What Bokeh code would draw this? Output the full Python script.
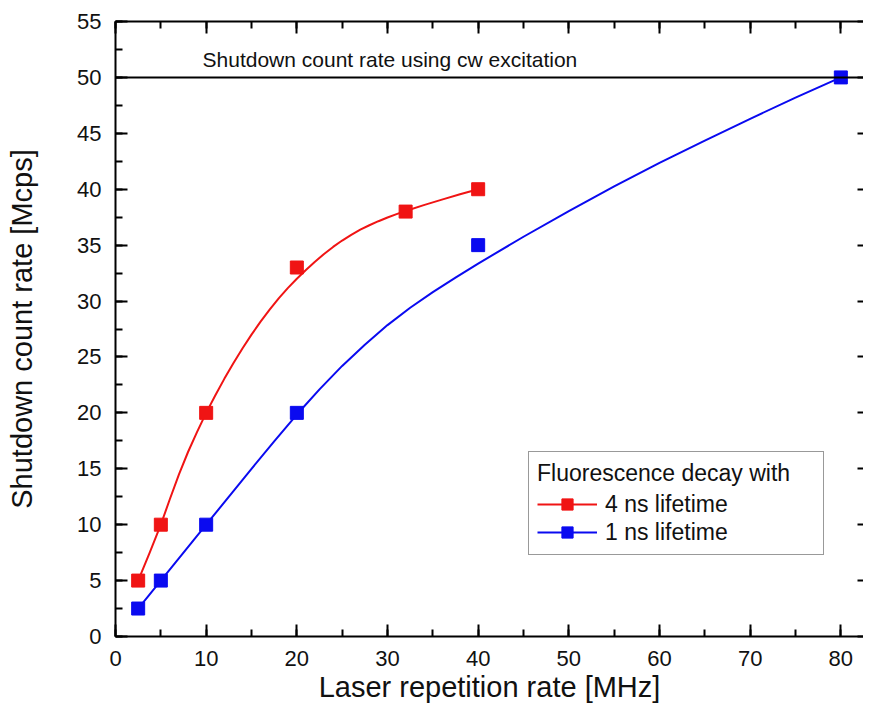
from bokeh.plotting import figure
from bokeh.models import (Range1d, LinearAxis, SingleIntervalTicker, Span, Label,
                          Legend, LegendItem)
from bokeh.embed import file_html
from bokeh.resources import INLINE

# measured points
x_4ns = [2.5, 5, 10, 20, 32, 40]
y_4ns = [5, 10, 20, 33, 38, 40]
x_1ns = [2.5, 5, 10, 20, 40, 80]
y_1ns = [2.5, 5, 10, 20, 35, 50]

# fitted curves
fit4_x = [2.5, 3.75, 5, 6, 7, 8, 9, 10, 11, 12, 13, 14, 15, 16, 17, 18, 19, 20,
          21, 22, 23, 24, 25, 26, 27, 28, 29, 30, 31, 32, 34, 36, 38, 40]
fit4_y = [5, 7.45, 10, 12.3, 14.5, 16.5, 18.3, 20, 21.56, 23.04, 24.44, 25.76, 27.0,
          28.16, 29.24, 30.24, 31.16, 32.0, 32.78, 33.52, 34.21, 34.84, 35.41, 35.92,
          36.38, 36.78, 37.14, 37.47, 37.77, 38.05, 38.58, 39.07, 39.55, 40.0]
fit1_x = [2.5, 5, 10, 15, 17.5, 20, 22.5, 25, 27.5, 30, 32.5, 35, 37.5, 40, 45, 50,
          55, 60, 65, 70, 75, 80]
fit1_y = [2.5, 5, 10, 15, 17.45, 19.85, 22.1, 24.2, 26.1, 27.85, 29.4, 30.8, 32.1,
          33.35, 35.75, 38.05, 40.25, 42.35, 44.35, 46.3, 48.2, 50]

cw_rate = 50
cw_text = "Shutdown count rate using cw excitation"
legend_title = "Fluorescence decay with"
label_4ns = "4 ns lifetime"
label_1ns = "1 ns lifetime"

FONT = "Liberation Sans"
RED = "#f01414"
BLUE = "#0a0af0"

p = figure(width=863, height=706, output_backend="svg", toolbar_location=None,
           x_range=Range1d(0, 82.5), y_range=Range1d(0, 55),
           x_axis_type=None, y_axis_type=None,
           min_border_left=115, min_border_right=0, min_border_top=21,
           min_border_bottom=70)
p.outline_line_color = None
p.xgrid.visible = False
p.ygrid.visible = False
p.background_fill_color = "white"
p.border_fill_color = "white"


def style_axis(ax, major_in, minor_in, labels=True, line=True):
    ax.major_tick_in = major_in
    ax.major_tick_out = 0
    ax.minor_tick_in = minor_in
    ax.minor_tick_out = 0
    ax.axis_line_width = 2
    ax.major_tick_line_width = 2
    ax.minor_tick_line_width = 2
    ax.axis_line_color = "black" if line else None
    ax.major_tick_line_color = "black"
    ax.minor_tick_line_color = "black" if minor_in > 0 else None
    if labels:
        ax.major_label_text_font = FONT
        ax.major_label_text_font_size = "22px"
        ax.major_label_text_color = "#111111"
        ax.axis_label_text_font = FONT
        ax.axis_label_text_font_size = "29px"
        ax.axis_label_text_font_style = "normal"
        ax.axis_label_text_color = "#111111"
    else:
        ax.major_label_text_font_size = "1px"
        ax.major_label_text_color = None
        ax.major_label_standoff = 0


xt = lambda: SingleIntervalTicker(interval=10, num_minor_ticks=2)
yt = lambda: SingleIntervalTicker(interval=5, num_minor_ticks=2)

xb = LinearAxis(ticker=xt(), axis_label="Laser repetition rate [MHz]")
style_axis(xb, 12, 7)
xb.major_label_standoff = 14
xb.axis_label_standoff = 2
p.add_layout(xb, "below")

yl = LinearAxis(ticker=yt(), axis_label="Shutdown count rate [Mcps]")
style_axis(yl, 12, 7)
yl.major_label_standoff = 14
yl.axis_label_standoff = 36
p.add_layout(yl, "left")

xa = LinearAxis(ticker=xt())
style_axis(xa, 12, 7, labels=False)
p.add_layout(xa, "above")

yr = LinearAxis(ticker=yt())
style_axis(yr, 6, 0, labels=False, line=False)
p.add_layout(yr, "right")

p.add_layout(Span(location=cw_rate, dimension="width", line_color="black", line_width=2))
p.add_layout(Label(x=9.6, y=51.6, text=cw_text, text_font=FONT, text_font_size="21px",
                   text_baseline="alphabetic", text_color="#111111"))

l4 = p.line(fit4_x, fit4_y, line_color=RED, line_width=2, line_join="round")
s4 = p.scatter(x_4ns, y_4ns, marker="square", size=13, fill_color=RED, line_color=RED)
l1 = p.line(fit1_x, fit1_y, line_color=BLUE, line_width=2, line_join="round")
s1 = p.scatter(x_1ns, y_1ns, marker="square", size=13, fill_color=BLUE, line_color=BLUE)

legend = Legend(items=[LegendItem(label=label_4ns, renderers=[l4, s4]),
                       LegendItem(label=label_1ns, renderers=[l1, s1])],
                location=(413, 81), title=legend_title)
legend.title_text_font = FONT
legend.title_text_font_size = "23px"
legend.title_text_font_style = "normal"
legend.title_text_color = "#111111"
legend.title_standoff = 3
legend.label_text_font = FONT
legend.label_text_font_size = "23px"
legend.label_text_color = "#111111"
legend.padding = 8
legend.margin = 0
legend.spacing = 0
legend.glyph_width = 60
legend.glyph_height = 28
legend.label_height = 28
legend.label_standoff = 8
legend.label_width = 210
legend.border_line_color = "#333333"
legend.border_line_width = 1.5
legend.background_fill_alpha = 1
p.add_layout(legend, "center")

open("out.html", "w").write(file_html(p, INLINE))
